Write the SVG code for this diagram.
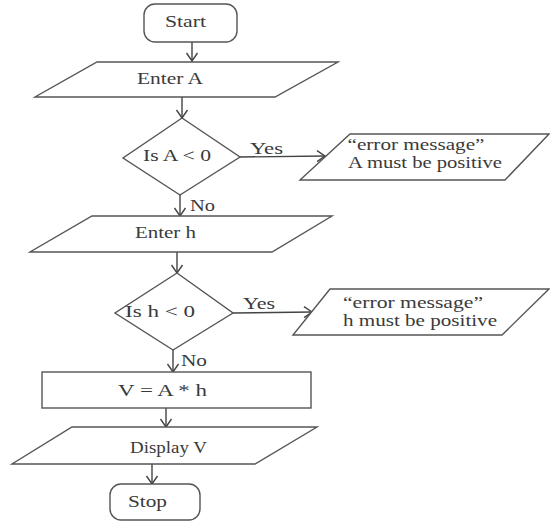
<svg xmlns="http://www.w3.org/2000/svg" width="550" height="521" viewBox="0 0 550 521">
<defs>
<marker id="arr" markerUnits="userSpaceOnUse" markerWidth="14" markerHeight="14" refX="12" refY="7" orient="auto">
<path d="M4,1.5 L12,7 L4,12.5" fill="none" stroke="#444" stroke-width="1.4"/>
</marker>
<style>
.s{fill:#fff;stroke:#555;stroke-width:1.4}
.t{font-family:"Liberation Serif","Times New Roman",serif;font-size:16px;fill:#3a3a3a}
.m{text-anchor:middle}
.c{fill:none;stroke:#444;stroke-width:1.4;marker-end:url(#arr)}
</style>
</defs>
<rect width="550" height="521" fill="#fff"/>
<g id="connectors">
<line class="c" x1="192" y1="42" x2="192" y2="61"/>
<line class="c" x1="182" y1="97" x2="182" y2="118"/>
<line class="c" x1="240" y1="157" x2="325" y2="156"/>
<line class="c" x1="180" y1="195" x2="180" y2="216"/>
<line class="c" x1="177" y1="252" x2="177" y2="273"/>
<line class="c" x1="233" y1="313" x2="312" y2="312"/>
<line class="c" x1="173" y1="350" x2="173" y2="372"/>
<line class="c" x1="166" y1="408" x2="166" y2="427"/>
<line class="c" x1="152" y1="464" x2="152" y2="484"/>
<text class="t" x="250" y="154" textLength="33" lengthAdjust="spacingAndGlyphs">Yes</text>
<text class="t" x="190" y="211" textLength="25" lengthAdjust="spacingAndGlyphs">No</text>
<text class="t" x="243" y="309" textLength="32" lengthAdjust="spacingAndGlyphs">Yes</text>
<text class="t" x="181" y="366" textLength="26" lengthAdjust="spacingAndGlyphs">No</text>
</g>
<g id="start">
<rect class="s" x="144" y="4" width="93" height="38" rx="11"/>
<text class="t m" x="185.5" y="27" textLength="41" lengthAdjust="spacingAndGlyphs">Start</text>
</g>
<g id="enterA">
<polygon class="s" points="97,62 338,62 275,97 35,97"/>
<text class="t m" x="170" y="84" textLength="66" lengthAdjust="spacingAndGlyphs">Enter A</text>
</g>
<g id="isA">
<polygon class="s" points="182,118 240,157 180,195 123,158"/>
<text class="t m" x="177" y="161" textLength="68" lengthAdjust="spacingAndGlyphs">Is A &lt; 0</text>
</g>
<g id="errA">
<polygon class="s" points="350,134 549,134 505,180 300,180"/>
<text class="t m" x="416" y="150" textLength="137" lengthAdjust="spacingAndGlyphs">“error message”</text>
<text class="t m" x="425" y="168" textLength="154" lengthAdjust="spacingAndGlyphs">A must be positive</text>
</g>
<g id="enterH">
<polygon class="s" points="92,216 332,216 272,252 30,252"/>
<text class="t m" x="165.5" y="238" textLength="61" lengthAdjust="spacingAndGlyphs">Enter h</text>
</g>
<g id="isH">
<polygon class="s" points="177,273 233,313 173,350 115,313"/>
<text class="t m" x="160" y="317" textLength="70" lengthAdjust="spacingAndGlyphs">Is h &lt; 0</text>
</g>
<g id="errH">
<polygon class="s" points="330,289 549,289 502,335 293,335"/>
<text class="t m" x="413" y="308" textLength="140" lengthAdjust="spacingAndGlyphs">“error message”</text>
<text class="t m" x="420" y="326" textLength="154" lengthAdjust="spacingAndGlyphs">h must be positive</text>
</g>
<g id="calc">
<rect class="s" x="42" y="372" width="269" height="36"/>
<text class="t m" x="162.5" y="396" textLength="89" lengthAdjust="spacingAndGlyphs">V = A * h</text>
</g>
<g id="display">
<polygon class="s" points="72,427 317,427 255,464 12,464"/>
<text class="t m" x="168.5" y="453" textLength="77" lengthAdjust="spacingAndGlyphs">Display V</text>
</g>
<g id="stop">
<rect class="s" x="110" y="484" width="90" height="36" rx="11"/>
<text class="t m" x="147.5" y="507" textLength="39" lengthAdjust="spacingAndGlyphs">Stop</text>
</g>
</svg>
